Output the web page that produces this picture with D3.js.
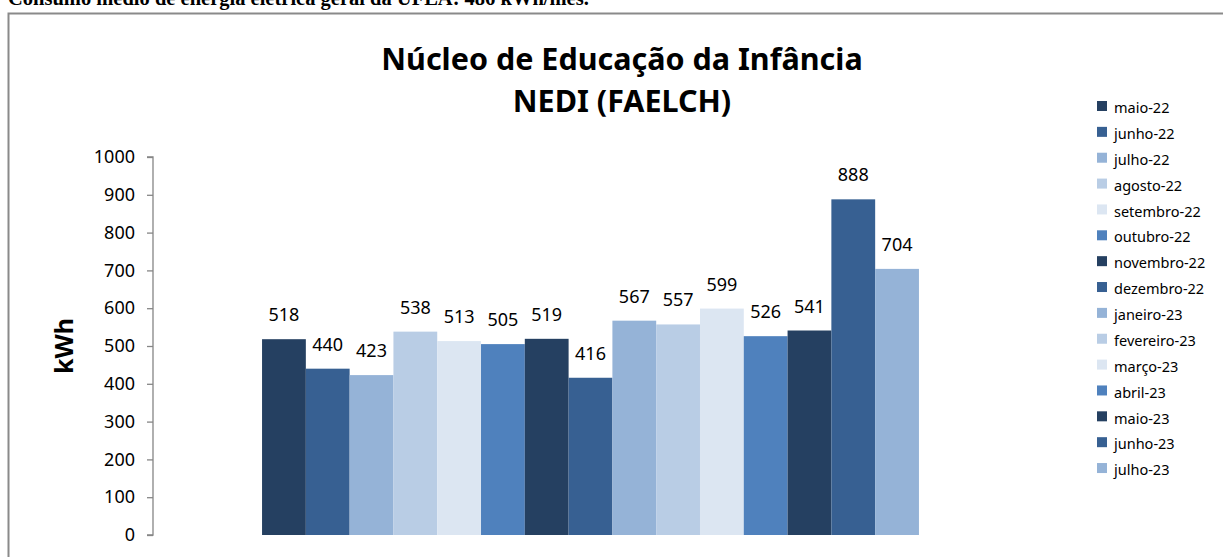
<!DOCTYPE html>
<html>
<head>
<meta charset="utf-8">
<script src="https://cdn.jsdelivr.net/npm/d3@7"></script>
<style>
  html, body { margin: 0; padding: 0; background: #fff; }
  svg { display: block; }
</style>
</head>
<body>
<div id="chart"></div>
<script>
// data
const months = ["maio-22", "junho-22", "julho-22", "agosto-22", "setembro-22", "outubro-22",
    "novembro-22", "dezembro-22", "janeiro-23", "fevereiro-23", "março-23", "abril-23",
    "maio-23", "junho-23", "julho-23"];
const kwh = [518, 440, 423, 538, 513, 505, 519, 416, 567, 557, 599, 526, 541, 888, 704];
const palette = ["#254061", "#376092", "#95b3d7", "#b9cde5", "#dce6f2", "#4f81bd"];
const yTicks = [0, 100, 200, 300, 400, 500, 600, 700, 800, 900, 1000];
const category = ["NEDI"];

const width = 1223, height = 557;
const font = "'Noto Sans', sans-serif";

const svg = d3.select("#chart").append("svg")
    .attr("width", width)
    .attr("height", height);

// caption line, cut at the top of the page like in the source document
svg.append("text")
    .attr("x", 8)
    .attr("y", 5)
    .attr("font-family", "'Liberation Serif', serif")
    .attr("font-size", 20.5)
    .attr("font-weight", "bold")
    .attr("fill", "#000")
    .text("Consumo médio de energia elétrica geral da UFLA: 486 kWh/mês.");

// chart frame
svg.append("rect")
    .attr("x", 8.5)
    .attr("y", 13.5)
    .attr("width", 1300)
    .attr("height", 600)
    .attr("fill", "none")
    .attr("stroke", "#8a8a8a")
    .attr("stroke-width", 2);

// title
const title = svg.append("text")
    .attr("text-anchor", "middle")
    .attr("font-family", font)
    .attr("font-weight", "bold")
    .attr("font-size", 30.5)
    .attr("fill", "#000");
title.append("tspan").attr("x", 622).attr("y", 70).text("Núcleo de Educação da Infância");
title.append("tspan").attr("x", 622).attr("y", 112).text("NEDI (FAELCH)");

// scales
const plot = { left: 153, right: 1028, top: 157, bottom: 535 };

const y = d3.scaleLinear()
    .domain([0, 1000])
    .range([plot.bottom, plot.top]);

const x0 = d3.scaleBand()
    .domain(category)
    .range([plot.left, plot.right])
    .paddingInner(0)
    .paddingOuter(0.166);

const x = d3.scaleBand()
    .domain(months)
    .range([x0(category[0]), x0(category[0]) + x0.bandwidth()]);

const color = d3.scaleOrdinal()
    .domain(months)
    .range(months.map((m, i) => palette[i % palette.length]));

// y axis
const yAxis = svg.append("g")
    .attr("transform", `translate(${plot.left},0)`)
    .call(d3.axisLeft(y).tickValues(yTicks).tickFormat(d3.format("d")).tickSize(6).tickPadding(12));
yAxis.selectAll("path, line").attr("stroke", "#868686").attr("stroke-width", 1.3);
yAxis.select(".domain").attr("d", `M-6,${plot.top}H0V${plot.bottom}H-6`);
yAxis.selectAll("text")
    .attr("font-family", font)
    .attr("font-size", 18)
    .attr("fill", "#000");

svg.append("text")
    .attr("transform", `translate(73,${(plot.top + plot.bottom) / 2}) rotate(-90)`)
    .attr("text-anchor", "middle")
    .attr("font-family", font)
    .attr("font-weight", "bold")
    .attr("font-size", 25)
    .attr("fill", "#000")
    .text("kWh");

// bars
svg.append("g").selectAll("rect")
    .data(months)
    .join("rect")
    .attr("x", d => x(d))
    .attr("y", (d, i) => y(kwh[i]))
    .attr("width", x.bandwidth())
    .attr("height", (d, i) => y(0) - y(kwh[i]))
    .attr("fill", d => color(d));

// value labels
svg.append("g").selectAll("text")
    .data(months)
    .join("text")
    .attr("x", d => x(d) + x.bandwidth() / 2)
    .attr("y", (d, i) => y(kwh[i]) - 18)
    .attr("text-anchor", "middle")
    .attr("font-family", font)
    .attr("font-size", 18)
    .attr("fill", "#000")
    .text((d, i) => kwh[i]);

// legend
const legend = svg.append("g")
    .attr("transform", "translate(1097,111)");
const row = legend.selectAll("g")
    .data(months)
    .join("g")
    .attr("transform", (d, i) => `translate(0,${i * 25.86})`);
row.append("rect")
    .attr("x", 0)
    .attr("y", -10)
    .attr("width", 10)
    .attr("height", 10)
    .attr("fill", d => color(d));
row.append("text")
    .attr("x", 17)
    .attr("y", 0)
    .attr("dy", "0.15em")
    .attr("font-family", font)
    .attr("font-size", 14.5)
    .attr("fill", "#000")
    .text(d => d);
</script>
</body>
</html>
